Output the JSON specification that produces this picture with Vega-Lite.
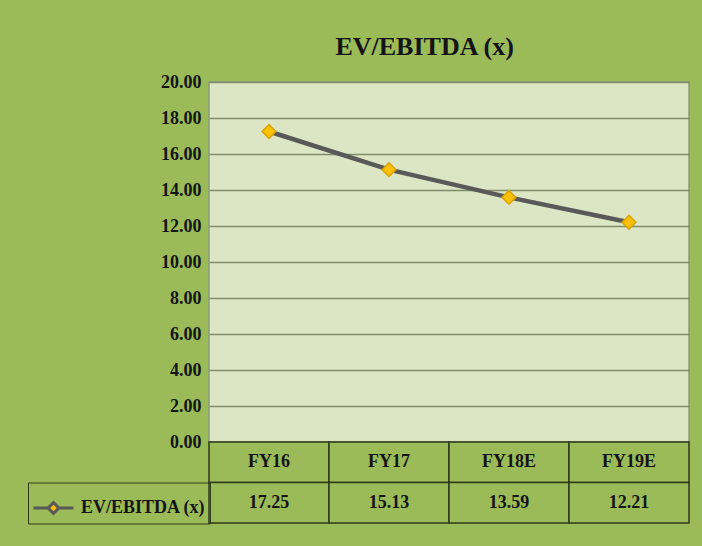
{
  "$schema": "https://vega.github.io/schema/vega-lite/v6.json",
  "background": "#9BBB59",
  "padding": {"left": 27, "top": 34, "right": 14, "bottom": 23},
  "bounds": "flush",
  "title": {"text": "EV/EBITDA (x)", "font": "Liberation Serif", "fontSize": 26, "fontWeight": "bold", "color": "#141414", "anchor": "middle", "offset": 12, "dx": 66},
  "data": {"values": [
    {"period": "FY16", "value": 17.25},
    {"period": "FY17", "value": 15.13},
    {"period": "FY18E", "value": 13.59},
    {"period": "FY19E", "value": 12.21}
  ]},
  "spacing": 0,
  "vconcat": [
    {
      "width": 480,
      "height": 360,
      "view": {"fill": "#DCE6C4", "stroke": "#8a9a78", "strokeWidth": 1.5},
      "encoding": {
        "x": {"field": "period", "type": "nominal", "sort": null, "axis": null, "scale": {"paddingInner": 0, "paddingOuter": 0}},
        "y": {"field": "value", "type": "quantitative", "scale": {"domain": [0, 20], "nice": false},
              "axis": {"values": [0, 2, 4, 6, 8, 10, 12, 14, 16, 18, 20], "format": ".2f", "title": null,
                       "labelFont": "Liberation Serif", "labelFontSize": 18, "labelFontWeight": "bold", "labelColor": "#141414",
                       "labelPadding": 8, "domain": false, "ticks": false, "grid": true, "gridColor": "#7f8d6c", "gridWidth": 1.5}}
      },
      "layer": [
        {"mark": {"type": "line", "strokeWidth": 4.5},
         "encoding": {"color": {"datum": "EV/EBITDA (x)", "scale": {"range": ["#595959"]},
           "legend": {"title": null, "orient": "none", "legendX": -181, "legendY": 400.5,
             "symbolType": "M-1,0L-0.27,0M0.27,0L1,0M0,-0.27L0.27,0L0,0.27L-0.27,0Z",
             "symbolSize": 1600, "symbolStrokeWidth": 3,
             "labelFont": "Liberation Serif", "labelFontSize": 18, "labelFontWeight": "bold", "labelColor": "#141414",
             "labelOffset": 6, "padding": 4, "strokeColor": "#2c3a1a", "cornerRadius": 0,
             "encode": {"symbols": {"update": {"fill": {"value": "#FFC000"}, "stroke": {"value": "#595959"}, "strokeWidth": {"value": 3}}}}}}}},
        {"mark": {"type": "point", "shape": "diamond", "filled": true, "fill": "#FFC000", "stroke": "#D9A300", "strokeWidth": 1.5, "size": 190, "opacity": 1}}
      ]
    },
    {
      "width": 480,
      "height": 81,
      "view": {"stroke": null},
      "encoding": {
        "x": {"field": "period", "type": "nominal", "sort": null, "axis": null, "scale": {"paddingInner": 0, "paddingOuter": 0}}
      },
      "layer": [
        {"mark": {"type": "rect", "fill": "#9BBB59", "stroke": "#2c3a1a", "strokeWidth": 1.5},
         "encoding": {"y": {"datum": "hdr", "type": "nominal", "axis": null, "scale": {"domain": ["hdr", "val"], "paddingInner": 0, "paddingOuter": 0}}}},
        {"mark": {"type": "rect", "fill": "#9BBB59", "stroke": "#2c3a1a", "strokeWidth": 1.5},
         "encoding": {"y": {"datum": "val", "type": "nominal"}}},
        {"mark": {"type": "text", "font": "Liberation Serif", "fontSize": 18, "fontWeight": "bold", "color": "#141414"},
         "encoding": {"y": {"datum": "hdr", "type": "nominal"}, "text": {"field": "period"}}},
        {"mark": {"type": "text", "font": "Liberation Serif", "fontSize": 18, "fontWeight": "bold", "color": "#141414"},
         "encoding": {"y": {"datum": "val", "type": "nominal"}, "text": {"field": "value", "format": ".2f"}}}
      ]
    }
  ]
}
